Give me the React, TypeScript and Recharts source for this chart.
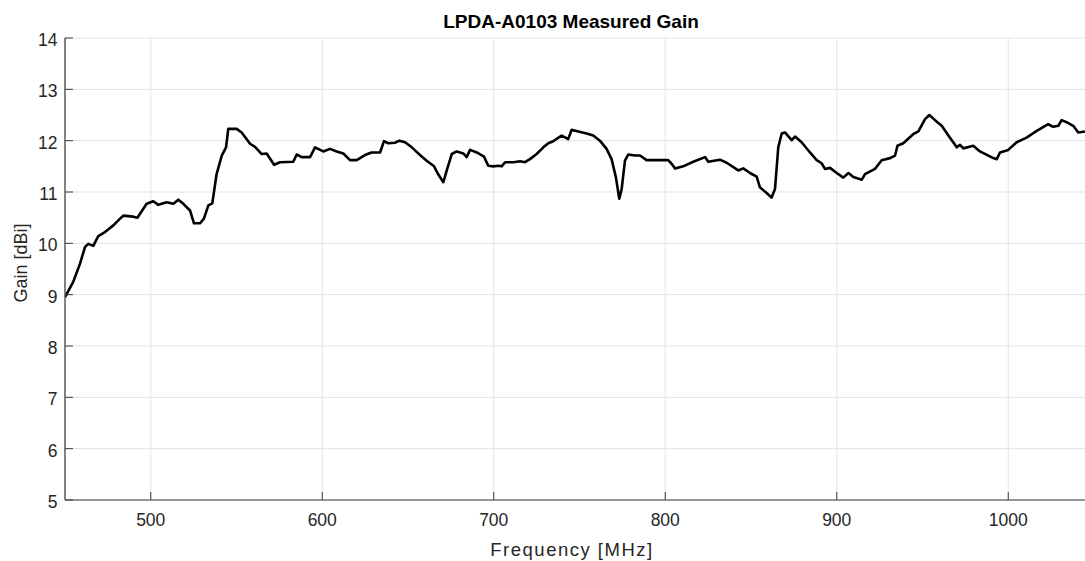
import React from 'react';
import { LineChart, Line, XAxis, YAxis, CartesianGrid } from 'recharts';

const freqMHz = [
  450, 454.8, 458.7, 461.7, 463.6, 466.5, 469.4, 473.3, 478.2, 482.1, 484, 489.8, 492.2, 497.6,
  501.5, 504.4, 509.3, 513.2, 516.1, 519, 522.9, 525.2, 528.7, 531, 533.6, 535.9, 538.4, 541.4,
  543.9, 545.2, 550.1, 553, 557.9, 560.8, 564.7, 567.6, 571.9, 575.4, 583.1, 585.1, 588, 592.9,
  595.8, 600.6, 604.5, 608.4, 612.3, 616.2, 620.1, 624.9, 628.8, 633.7, 636, 638.5, 642.4, 644.9,
  648.3, 652.2, 657, 660.9, 665.2, 667.7, 670.6, 672.6, 675.5, 678.4, 682.3, 684.2, 686.2, 690.1,
  694.3, 696.8, 699.7, 702.6, 704.6, 706.6, 711.4, 715.3, 718.2, 721.1, 725, 728.9, 731.8, 734.7,
  739.6, 743.4, 745.4, 749.3, 754.2, 758, 761.9, 765.8, 768.7, 771.2, 773.2, 774.6, 776.5, 778.4,
  782.3, 785.3, 789.1, 796.9, 801.7, 803.7, 805.7, 810.5, 816.3, 823.2, 825.1, 831.9, 835.8, 842.6,
  845.5, 849.4, 853.3, 855.2, 859.1, 862, 864, 865.9, 867.9, 869.8, 873.7, 875.7, 879.5, 884.4,
  888.3, 891.2, 893.1, 896.1, 900, 903.8, 906.8, 909.7, 914.6, 916.5, 922.3, 926.2, 931.1, 934,
  935.4, 938.8, 944.7, 947.6, 951.5, 954, 957.3, 961.2, 965.1, 970, 971.9, 973.8, 979.6, 983.5,
  991.3, 993.3, 995.2, 1000, 1004.9, 1010.7, 1016.6, 1023.3, 1026.2, 1029.2, 1031.1, 1034, 1037.9,
  1040.8, 1044.7,
];

const gainDbi = [
  8.95, 9.25, 9.6, 9.93, 9.99, 9.95, 10.14, 10.22, 10.35, 10.48, 10.54, 10.52, 10.5, 10.77,
  10.82, 10.75, 10.8, 10.77, 10.85, 10.77, 10.64, 10.39, 10.39, 10.48, 10.74, 10.78, 11.35, 11.71,
  11.87, 12.23, 12.23, 12.16, 11.94, 11.88, 11.74, 11.75, 11.53, 11.58, 11.59, 11.73, 11.68, 11.68,
  11.87, 11.79, 11.84, 11.79, 11.75, 11.62, 11.62, 11.72, 11.77, 11.77, 11.99, 11.95, 11.96, 12.0,
  11.97, 11.87, 11.72, 11.61, 11.5, 11.34, 11.19, 11.42, 11.74, 11.79, 11.75, 11.68, 11.82, 11.77,
  11.69, 11.51, 11.5, 11.51, 11.5, 11.58, 11.58, 11.6, 11.58, 11.64, 11.74, 11.87, 11.95, 11.99,
  12.1, 12.03, 12.21, 12.18, 12.14, 12.1, 12.0, 11.84, 11.64, 11.29, 10.87, 11.06, 11.61, 11.73,
  11.71, 11.71, 11.62, 11.62, 11.62, 11.55, 11.46, 11.5, 11.59, 11.68, 11.59, 11.63, 11.57, 11.42,
  11.46, 11.37, 11.3, 11.09, 10.98, 10.89, 11.06, 11.87, 12.14, 12.16, 12.01, 12.08, 11.97, 11.77,
  11.62, 11.56, 11.45, 11.47, 11.37, 11.28, 11.37, 11.29, 11.24, 11.35, 11.45, 11.62, 11.66, 11.71,
  11.9, 11.95, 12.13, 12.18, 12.42, 12.5, 12.4, 12.29, 12.1, 11.87, 11.92, 11.85, 11.9, 11.79,
  11.66, 11.64, 11.77, 11.82, 11.97, 12.06, 12.19, 12.32, 12.27, 12.29, 12.4, 12.36, 12.29,
  12.16, 12.18,
];

const xTicks = [500, 600, 700, 800, 900, 1000];
const yTicks = [5, 6, 7, 8, 9, 10, 11, 12, 13, 14];

const FONT = '"Liberation Sans", Arial, Helvetica, sans-serif';
const AXIS = '#3a3a3a';
const TEXT = '#262626';
const GRID = '#e3e3e3';

const BottomTick = (props: any) => {
  const { x, y, payload } = props;
  return (
    <g>
      <line x1={x} x2={x} y1={y} y2={y - 8} stroke={AXIS} strokeWidth={1} />
      <text x={x} y={y + 26} textAnchor="middle" fill={TEXT} fontSize={17.5} fontFamily={FONT}>
        {payload.value}
      </text>
    </g>
  );
};

const TopTick = (props: any) => {
  const { x, y } = props;
  return <line x1={x} x2={x} y1={y} y2={y + 8} stroke={AXIS} strokeWidth={1} />;
};

const LeftTick = (props: any) => {
  const { x, y, payload } = props;
  return (
    <g>
      <line x1={x} x2={x + 8} y1={y} y2={y} stroke={AXIS} strokeWidth={1} />
      <text x={x - 7.5} y={y + 8} textAnchor="end" fill={TEXT} fontSize={17.5} fontFamily={FONT}>
        {payload.value}
      </text>
    </g>
  );
};

export default function App() {
  const data = freqMHz.map((f, i) => ({ freq: f, gain: gainDbi[i] }));

  return (
    <div
      style={{
        position: 'absolute',
        left: 0,
        top: 0,
        width: 1085,
        height: 561,
        overflow: 'hidden',
        background: '#fff',
        fontFamily: FONT,
      }}
    >
      <LineChart width={1100} height={561} data={data} margin={{ top: 38, right: 6, bottom: 0, left: 0 }}>
        <CartesianGrid xAxisId="bottom" stroke={GRID} strokeWidth={1} />
        <XAxis
          xAxisId="bottom"
          dataKey="freq"
          type="number"
          domain={[450, 1050]}
          ticks={xTicks}
          height={61}
          tickSize={0}
          tickMargin={0}
          tickLine={false}
          axisLine={{ stroke: AXIS, strokeWidth: 1.2 }}
          tick={BottomTick}
          allowDataOverflow
        />
        <XAxis
          xAxisId="top"
          orientation="top"
          dataKey="freq"
          type="number"
          domain={[450, 1050]}
          ticks={xTicks}
          height={0}
          tickSize={0}
          tickMargin={0}
          tickLine={false}
          axisLine={{ stroke: AXIS, strokeWidth: 1.2 }}
          tick={TopTick}
          allowDataOverflow
        />
        <YAxis
          type="number"
          domain={[5, 14]}
          ticks={yTicks}
          width={65}
          tickSize={0}
          tickMargin={0}
          tickLine={false}
          axisLine={{ stroke: AXIS, strokeWidth: 1.2 }}
          tick={LeftTick}
          interval={0}
          allowDataOverflow
        />
        <Line
          xAxisId="bottom"
          type="linear"
          dataKey="gain"
          stroke="#000"
          strokeWidth={2.6}
          strokeLinejoin="round"
          dot={false}
          isAnimationActive={false}
        />
      </LineChart>

      <svg
        width={1085}
        height={561}
        style={{ position: 'absolute', left: 0, top: 0, pointerEvents: 'none' }}
      >
        <text x={571} y={28} textAnchor="middle" fontSize={19} fontWeight="bold" fill="#000" fontFamily={FONT}>
          LPDA-A0103 Measured Gain
        </text>
        <text
          x={572}
          y={556}
          textAnchor="middle"
          fontSize={18.5}
          letterSpacing={1.5}
          fill={TEXT}
          fontFamily={FONT}
        >
          Frequency [MHz]
        </text>
        <text
          x={27}
          y={263}
          textAnchor="middle"
          fontSize={18}
          fill={TEXT}
          fontFamily={FONT}
          transform="rotate(-90 27 263)"
        >
          Gain [dBi]
        </text>
      </svg>
    </div>
  );
}
